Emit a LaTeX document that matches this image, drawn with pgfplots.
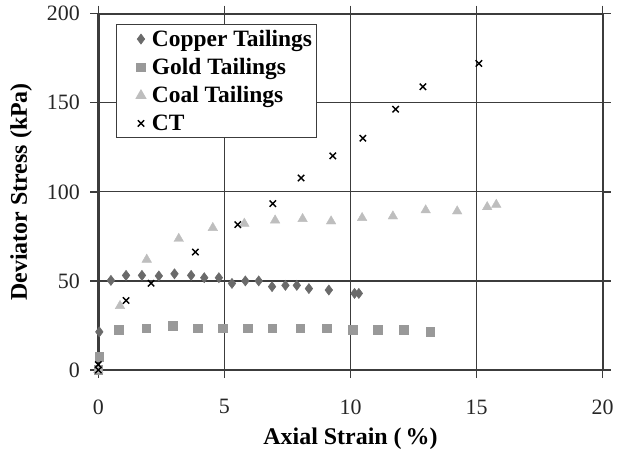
\documentclass[border=0pt]{standalone}
\usepackage{fontspec}
\setmainfont{Liberation Serif}
\usepackage{pgfplots}
\pgfplotsset{compat=1.18}
\definecolor{copper}{HTML}{6A6A6A}
\definecolor{gold}{HTML}{999999}
\definecolor{coal}{HTML}{BEBEBE}
\definecolor{axgray}{HTML}{3C3C3C}
\begin{document}
\begin{tikzpicture}
\begin{axis}[
  scale only axis, width=504bp, height=356bp,
  xmin=0, xmax=20, ymin=0, ymax=200,
  xtick={0,5,10,15,20}, ytick={0,50,100,150,200},
  grid=major, major grid style={line width=1.2bp, color=axgray},
  axis line style={line width=2.4bp, color=axgray},
  tick align=outside, major tick length=8bp,
  tick style={line width=1.4bp, color=axgray},
  ticklabel style={font=\fontsize{22}{25}\selectfont, text=black!85},
  xticklabel style={yshift=-18bp},
  yticklabel style={xshift=-7bp},
  /pgf/number format/assume math mode=true,
  xlabel={Axial Strain (\,\%)}, ylabel={Deviator Stress (kPa)},
  label style={font=\fontsize{24}{28}\selectfont\bfseries},
  xlabel style={yshift=-10bp, inner sep=0pt},
  ylabel style={yshift=8bp},
  legend style={at={(axis description cs:0.036,0.972)}, anchor=north west,
    font=\fontsize{23.5}{26}\selectfont\bfseries, draw=axgray, line width=1bp,
    legend cell align=left, row sep=6.5bp, inner xsep=3bp, inner ysep=4bp},
  legend image code/.code={\path[draw=none,fill=none] (0bp,0bp) -- (30bp,0bp); \draw[#1] plot coordinates {(21bp,0bp)};},
]
\addplot[only marks, mark=diamond*, mark size=5bp, color=copper, mark options={line width=0.6bp}] coordinates {
(0,0) (0.04,21.4) (0.5,50.3) (1.1,53.1) (1.73,53.1) (2.4,52.8) (3.02,54) (3.68,53.1)
(4.2,51.8) (4.78,51.8) (5.3,48.6) (5.83,50) (6.36,50) (6.89,46.8) (7.42,47.5) (7.87,47.5)
(8.35,45.7) (9.14,44.9) (10.16,43) (10.33,43)
};
\addlegendentry{Copper Tailings}
\addplot[only marks, mark=square*, mark size=4.3bp, color=gold] coordinates {
(0,0) (0.04,7.5) (0.8,22.5) (1.9,23.5) (2.95,24.8) (3.94,23.5) (4.93,23.5) (5.93,23.5)
(6.89,23.5) (8.0,23.5) (9.06,23.5) (10.09,22.5) (11.08,22.5) (12.1,22.5) (13.16,21.6)
};
\addlegendentry{Gold Tailings}
\addplot[only marks, mark=triangle*, mark size=5.5bp, color=coal] coordinates {
(0,0) (0.86,36) (1.92,62) (3.19,73.7) (4.54,79.8) (5.79,82.2) (7.01,84) (8.1,84.8)
(9.23,83.5) (10.46,85.4) (11.68,86.3) (12.98,89.7) (14.23,89.1) (15.42,91.5) (15.78,92.8)
};
\addlegendentry{Coal Tailings}
\addplot[only marks, mark=x, mark size=4.5bp, color=black, mark options={line width=1.4bp}] coordinates {
(0,0) (0,3) (1.1,39) (2.09,48.7) (3.85,66.2) (5.53,81.6) (6.92,93.4) (8.04,107.8)
(9.3,120.2) (10.49,130.1) (11.79,146.4) (12.87,159) (15.09,172.1)
};
\addlegendentry{CT}
\end{axis}
\path (current bounding box.south west) ++(-7bp,0bp);
\path (current bounding box.north east) ++(1bp,3bp);
\end{tikzpicture}
\end{document}
